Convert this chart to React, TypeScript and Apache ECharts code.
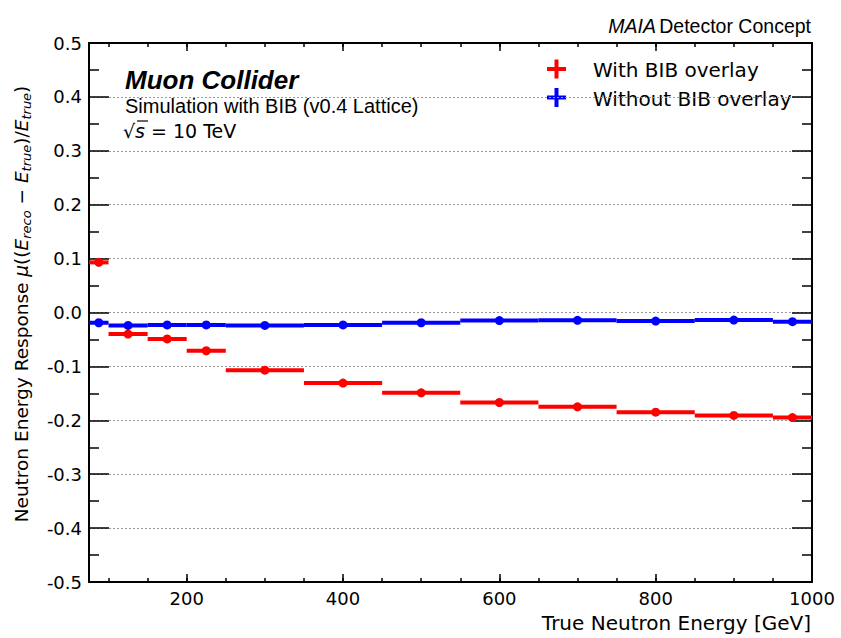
import React, { useEffect, useRef } from "react";
import * as echarts from "echarts";

const binLow = [75, 100, 150, 200, 250, 350, 450, 550, 650, 750, 850, 950];
const binHigh = [100, 150, 200, 250, 350, 450, 550, 650, 750, 850, 950, 1000];
const binCenter = [87.5, 125, 175, 225, 300, 400, 500, 600, 700, 800, 900, 975];
const withBIB = [0.093, -0.040, -0.049, -0.071, -0.107, -0.131, -0.149, -0.167, -0.175, -0.185, -0.191, -0.195];
const withoutBIB = [-0.019, -0.024, -0.023, -0.023, -0.024, -0.023, -0.019, -0.015, -0.0145, -0.016, -0.014, -0.017];
const seriesNames = ["With BIB overlay", "Without BIB overlay"];
const seriesColors = ["#ff0000", "#0000ff"];

const DV = "'DejaVu Sans', sans-serif";
const HV = "'Liberation Sans', Arial, sans-serif";

function makeData(vals: number[]) {
  return vals.map((v, i) => [binLow[i], binHigh[i], binCenter[i], v]);
}

function renderErr(color: string) {
  return (params: any, api: any) => {
    const lo = api.coord([api.value(0), api.value(3)]);
    const hi = api.coord([api.value(1), api.value(3)]);
    const c = api.coord([api.value(2), api.value(3)]);
    return {
      type: "group",
      children: [
        { type: "line", shape: { x1: lo[0], y1: lo[1], x2: hi[0], y2: hi[1] }, style: { stroke: color, lineWidth: 4 } },
        { type: "circle", shape: { cx: c[0], cy: c[1], r: 4.5 }, style: { fill: color } },
      ],
    };
  };
}

export default function App() {
  const ref = useRef<HTMLDivElement>(null);
  useEffect(() => {
    if (!ref.current) return;
    const chart = echarts.init(ref.current, undefined, { renderer: "svg" });
    const tickStyle = { color: "#000", width: 1.5 };
    const xBase = { type: "value", min: 75, max: 1000, gridIndex: 0, splitLine: { show: false } };
    const yBase = { type: "value", min: -0.5, max: 0.5, interval: 0.1 };
    const option: any = {
      animation: false,
      backgroundColor: "#fff",
      grid: { left: 89, right: 29, top: 43, bottom: 56, containLabel: false },
      xAxis: [
        {
          ...xBase, position: "bottom", minInterval: 200, maxInterval: 200,
          axisLine: { show: true, onZero: false, lineStyle: { color: "#000", width: 2 } },
          axisTick: { show: true, inside: true, length: 8, lineStyle: tickStyle },
          axisLabel: {
            show: true, margin: 7, color: "#000", fontSize: 18, fontFamily: DV,
            formatter: (v: number) => (Math.abs(v % 200) < 1e-6 ? String(Math.round(v)) : ""),
          },
        },
        {
          ...xBase, position: "bottom", minInterval: 50, maxInterval: 50,
          axisLine: { show: false, onZero: false },
          axisTick: { show: true, inside: true, length: 4, lineStyle: tickStyle },
          axisLabel: { show: false },
        },
        {
          ...xBase, position: "top", minInterval: 200, maxInterval: 200,
          axisLine: { show: true, onZero: false, lineStyle: { color: "#000", width: 2 } },
          axisTick: { show: true, inside: true, length: 8, lineStyle: tickStyle },
          axisLabel: { show: false },
        },
        {
          ...xBase, position: "top", minInterval: 50, maxInterval: 50,
          axisLine: { show: false, onZero: false },
          axisTick: { show: true, inside: true, length: 4, lineStyle: tickStyle },
          axisLabel: { show: false },
        },
      ],
      yAxis: [
        {
          ...yBase, position: "left",
          axisLine: { show: true, onZero: false, lineStyle: { color: "#000", width: 2 } },
          axisTick: { show: true, inside: true, length: 20, lineStyle: tickStyle },
          minorTick: { show: true, splitNumber: 2, length: 10, lineStyle: tickStyle },
          axisLabel: {
            show: true, margin: 7, color: "#000", fontSize: 18, fontFamily: DV,
            formatter: (v: number) => (Math.abs(v) < 1e-9 ? "0.0" : v.toFixed(1)),
          },
          splitLine: { show: true, lineStyle: { color: "#999", width: 1.2, type: [2, 2] } },
        },
        {
          ...yBase, position: "right",
          axisLine: { show: true, onZero: false, lineStyle: { color: "#000", width: 2 } },
          axisTick: { show: true, inside: true, length: 20, lineStyle: tickStyle },
          minorTick: { show: true, splitNumber: 2, length: 10, lineStyle: tickStyle },
          axisLabel: { show: false },
          splitLine: { show: false },
        },
      ],
      series: [
        {
          name: seriesNames[0], type: "custom", xAxisIndex: 0, yAxisIndex: 0,
          renderItem: renderErr(seriesColors[0]), data: makeData(withBIB), z: 3,
          encode: { x: [0, 1, 2], y: 3 }, clip: true,
        },
        {
          name: seriesNames[1], type: "custom", xAxisIndex: 0, yAxisIndex: 0,
          renderItem: renderErr(seriesColors[1]), data: makeData(withoutBIB), z: 4,
          encode: { x: [0, 1, 2], y: 3 }, clip: true,
        },
      ],
      graphic: [
        {
          type: "text", x: 811, y: 26,
          style: {
            text: "{i|MAIA} {n|Detector Concept}", align: "right", verticalAlign: "middle",
            rich: {
              i: { fontFamily: HV, fontSize: 19.5, fontStyle: "italic", fill: "#000" },
              n: { fontFamily: HV, fontSize: 19.5, fill: "#000" },
            },
          },
        },
        {
          type: "text", x: 125, y: 80,
          style: { text: "Muon Collider", font: `italic bold 26px ${HV}`, fill: "#000", align: "left", verticalAlign: "middle" },
        },
        {
          type: "text", x: 125, y: 106,
          style: { text: "Simulation with BIB (v0.4 Lattice)", font: `20px ${HV}`, fill: "#000", align: "left", verticalAlign: "middle" },
        },
        {
          type: "text", x: 123, y: 131,
          style: {
            text: "{n|√}{i|s}{n| = 10 TeV}", align: "left", verticalAlign: "middle",
            rich: {
              n: { fontFamily: DV, fontSize: 19, fill: "#000" },
              i: { fontFamily: DV, fontSize: 19, fontStyle: "italic", fill: "#000" },
            },
          },
        },
        { type: "line", shape: { x1: 137, y1: 121, x2: 148, y2: 121 }, style: { stroke: "#000", lineWidth: 1.2 } },
        // legend
        { type: "line", shape: { x1: 547, y1: 69, x2: 566, y2: 69 }, style: { stroke: seriesColors[0], lineWidth: 4 } },
        { type: "line", shape: { x1: 556.5, y1: 59.5, x2: 556.5, y2: 78.5 }, style: { stroke: seriesColors[0], lineWidth: 4 } },
        { type: "line", shape: { x1: 547, y1: 97.5, x2: 566, y2: 97.5 }, style: { stroke: seriesColors[1], lineWidth: 4 } },
        { type: "line", shape: { x1: 556.5, y1: 88, x2: 556.5, y2: 107 }, style: { stroke: seriesColors[1], lineWidth: 4 } },
        {
          type: "text", x: 593, y: 70,
          style: { text: seriesNames[0], font: `20px ${DV}`, fill: "#000", align: "left", verticalAlign: "middle" },
        },
        {
          type: "text", x: 593, y: 98.5,
          style: { text: seriesNames[1], font: `20px ${DV}`, fill: "#000", align: "left", verticalAlign: "middle" },
        },
        // axis titles
        {
          type: "text", x: 811, y: 623,
          style: { text: "True Neutron Energy [GeV]", font: `20px ${DV}`, fill: "#000", align: "right", verticalAlign: "middle" },
        },
        {
          type: "text", x: 21, y: 304, rotation: Math.PI / 2,
          style: {
            text: "{n|Neutron Energy Response }{i|μ}{n|((}{i|E}{s|reco}{n| − }{i|E}{s|true}{n|)/}{i|E}{s|true}{n|)}",
            align: "center", verticalAlign: "middle",
            rich: {
              n: { fontFamily: DV, fontSize: 18.5, fill: "#000", lineHeight: 24 },
              i: { fontFamily: DV, fontSize: 18.5, fontStyle: "italic", fill: "#000", lineHeight: 24 },
              s: { fontFamily: DV, fontSize: 13, fontStyle: "italic", fill: "#000", lineHeight: 13, verticalAlign: "bottom" },
            },
          },
        },
      ],
    };
    chart.setOption(option);
    return () => chart.dispose();
  }, []);
  return <div ref={ref} style={{ position: "fixed", left: 0, top: 0, width: 841, height: 638 }} />;
}
